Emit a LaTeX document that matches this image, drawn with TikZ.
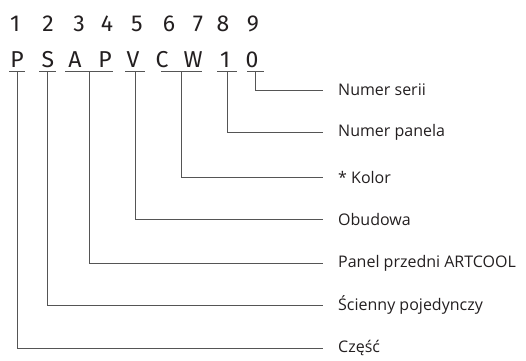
\documentclass[tikz,border=0pt]{standalone}
\usepackage{fontspec}
\setmainfont{Open Sans}
\newfontfamily\codefont{Fira Sans}
\usetikzlibrary{positioning, calc}
\definecolor{codegray}{RGB}{35,31,32}
\definecolor{leadgray}{RGB}{85,85,85}

\begin{document}
\begin{tikzpicture}[x=1pt,y=-1pt,
  digit/.style={anchor=base, inner sep=0pt, text=codegray, font=\codefont\fontsize{23}{23}\selectfont},
  letter/.style={anchor=base, inner sep=0pt, text=codegray, font=\codefont\fontsize{23}{23}\selectfont},
  desc/.style={anchor=west, inner sep=0pt, text=codegray, font=\fontsize{16}{16}\selectfont},
  lead/.style={draw=leadgray, line width=0.8pt}]
\useasboundingbox (0,0) rectangle (526,360);
% position numbers
\foreach \n/\x in {1/15, 2/48, 3/79, 4/107, 5/137, 6/169, 7/198, 8/223, 9/253}
  \node[digit] (d\n) at (\x,31) {\n};
% model code
\foreach \n/\c/\x in {1/P/17, 2/S/48, 3/A/75, 4/P/105, 5/V/133, 6/C/162, 7/W/193, 8/1/225, 9/0/252}
  \node[letter] (c\n) at (\x,67) {\c};
% underlines and leaders
\foreach \k/\a/\b/\y/\t in {serii/247/264/90/Numer serii,
    panela/217/237/132/Numer panela,
    kolor/161/202/177/* Kolor,
    obudowa/125/145/219/Obudowa,
    panel/65/113/263/Panel przedni ARTCOOL,
    scienny/39/56/305/Ścienny pojedynczy,
    czesc/9/25/348/Część}
{
  \coordinate (\k-l) at (\a,71);
  \coordinate (\k-r) at (\b,71);
  \coordinate (\k-m) at ($(\k-l)!0.5!(\k-r)$);
  \node[desc] (\k) at (338,\y) {\t};
  \draw[lead] (\k-l) -- (\k-r);
  \draw[lead, shorten >=15pt] (\k-m) |- (\k.west);
}
\end{tikzpicture}
\end{document}
